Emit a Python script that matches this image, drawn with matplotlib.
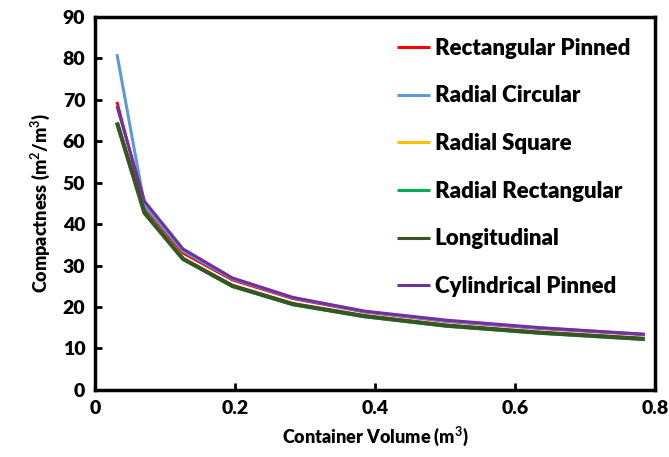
import matplotlib
matplotlib.use("Agg")
from matplotlib import pyplot as plt

plt.rcParams["font.family"] = ["Lato", "DejaVu Sans"]
plt.rcParams["font.weight"] = "bold"
plt.rcParams["mathtext.fontset"] = "custom"
plt.rcParams["mathtext.bf"] = "Lato:bold"

# Container volumes (m3)
volume = [0.0314, 0.0707, 0.1257, 0.1963, 0.2827, 0.3848, 0.5027, 0.6362, 0.7854]

rect_pinned = [69.5, 44.0, 33.0, 26.5, 22.0, 18.8, 16.5, 14.8, 13.3]
radial_circular = [81.0, 44.5, 33.5, 26.8, 22.2, 18.9, 16.6, 14.9, 13.4]
radial_square = [64.5, 43.0, 31.8, 25.2, 20.8, 17.9, 15.6, 13.9, 12.4]
radial_rect = [64.5, 42.8, 31.6, 25.0, 20.6, 17.7, 15.4, 13.7, 12.2]
longitudinal = [64.5, 42.7, 31.6, 25.1, 20.7, 17.8, 15.5, 13.8, 12.3]
cyl_pinned = [68.5, 45.5, 34.0, 27.0, 22.3, 19.0, 16.8, 15.0, 13.4]

labels = ["Rectangular Pinned", "Radial Circular", "Radial Square",
          "Radial Rectangular", "Longitudinal", "Cylindrical Pinned"]
series = [rect_pinned, radial_circular, radial_square, radial_rect, longitudinal, cyl_pinned]
colors = ["#FF0000", "#5B9BD5", "#FFC000", "#00B050", "#375623", "#7030A0"]
widths = [2.0, 2.2, 2.0, 2.6, 3.0, 2.2]

fig = plt.figure(figsize=(6.69, 4.57), dpi=100)
ax = fig.add_axes([0.142, 0.147, 0.837, 0.816])

for ys, lab, c, w in zip(series, labels, colors, widths):
    ax.plot(volume, ys, color=c, linewidth=w, label=lab, solid_capstyle="butt")

ax.set_xlim(0, 0.8)
ax.set_ylim(0, 90)
ax.set_xticks([0, 0.2, 0.4, 0.6, 0.8])
ax.set_xticklabels(["0", "0.2", "0.4", "0.6", "0.8"])
ax.set_yticks(range(0, 91, 10))
ax.tick_params(direction="in", width=2, length=5, labelsize=14, pad=7)
for lbl in ax.get_xticklabels() + ax.get_yticklabels():
    lbl.set_fontweight("heavy")
for sp in ax.spines.values():
    sp.set_linewidth(2.5)

ax.set_xlabel("Container Volume (m$^\\mathbf{3}$)", fontsize=13, fontweight="heavy", labelpad=6)
ax.set_ylabel("Compactness (m$^\\mathbf{2}$/m$^\\mathbf{3}$)", fontsize=13, fontweight="heavy", labelpad=8)

leg = ax.legend(loc="upper left", frameon=False, prop={"weight": "heavy", "size": 16},
                handlelength=1.5, handletextpad=0.2, labelspacing=1.2,
                bbox_to_anchor=(0.523, 0.968), borderaxespad=0)
for h in leg.get_lines():
    h.set_linewidth(2.2)

fig.savefig("out.png", dpi=100)
